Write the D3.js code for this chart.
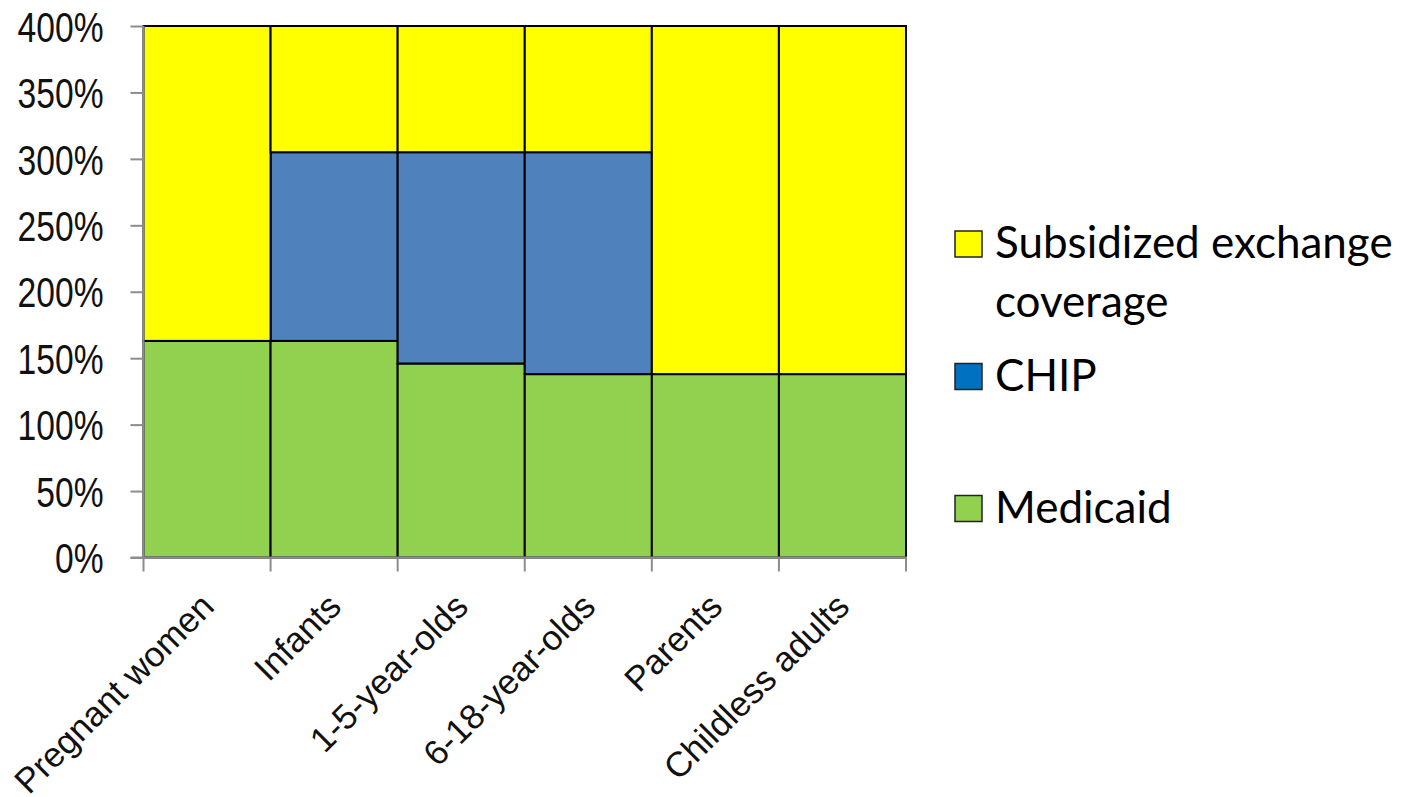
<!DOCTYPE html>
<html>
<head>
<meta charset="utf-8">
<script src="https://cdn.jsdelivr.net/npm/d3@7"></script>
<style>
  html, body { margin: 0; padding: 0; background: #fff; }
  svg { display: block; }
</style>
</head>
<body>
<svg id="chart" width="1403" height="797"></svg>
<script>
// Eligibility groups along the x axis
const categories = ["Pregnant women", "Infants", "1-5-year-olds", "6-18-year-olds", "Parents", "Childless adults"];
// Income limits as % of poverty level, stacked per group
const medicaid = [163, 163, 146, 138, 138, 138];
const chip     = [0, 142, 159, 167, 0, 0];
const exchange = [237, 95, 95, 95, 262, 262];
const yTicks = [0, 50, 100, 150, 200, 250, 300, 350, 400];

const seriesNames = ["Medicaid", "CHIP", "Subsidized exchange coverage"];
const barColors = { "Medicaid": "#92D050", "CHIP": "#4F81BD", "Subsidized exchange coverage": "#FFFF00" };
const legendColors = { "Medicaid": "#92D050", "CHIP": "#0070C0", "Subsidized exchange coverage": "#FFFF00" };

const rows = categories.map((c, i) => ({
  cat: c,
  "Medicaid": medicaid[i],
  "CHIP": chip[i],
  "Subsidized exchange coverage": exchange[i]
}));

const svg = d3.select("#chart");
const plotLeft = 143.5, plotRight = 906, plotTop = 26, plotBottom = 557.5;

const x = d3.scaleBand().domain(categories).range([plotLeft, plotRight]).padding(0);
const y = d3.scaleLinear().domain([0, 400]).range([plotBottom, plotTop]);

const stacked = d3.stack().keys(seriesNames)(rows);

// Stacked bars, touching, outlined in black
const layers = svg.append("g").selectAll("g")
  .data(stacked)
  .join("g")
  .attr("fill", d => barColors[d.key]);

layers.selectAll("rect")
  .data(d => d.filter(s => s[1] - s[0] > 0))
  .join("rect")
  .attr("x", d => x(d.data.cat))
  .attr("width", x.bandwidth())
  .attr("y", d => y(d[1]))
  .attr("height", d => y(d[0]) - y(d[1]))
  .attr("stroke", "#000")
  .attr("stroke-width", 2);

// Y axis (narrow labels: regular sans squeezed horizontally)
const yAxis = svg.append("g")
  .attr("transform", `translate(${plotLeft},0)`)
  .call(d3.axisLeft(y).tickValues(yTicks).tickFormat(d => d + "%").tickSize(13).tickPadding(27));
yAxis.select(".domain").attr("stroke", "#8c8c8c").attr("stroke-width", 2).attr("d", `M0,${plotBottom + 1}V${plotTop}`);
yAxis.selectAll(".tick line").attr("stroke", "#8c8c8c").attr("stroke-width", 2);
yAxis.selectAll(".tick text")
  .attr("x", 0)
  .attr("transform", "translate(-40,0) scale(0.8,1)")
  .attr("fill", "#111")
  .style("font-family", "'Liberation Sans', Arial, sans-serif")
  .style("font-size", "42px")
  .attr("dy", "0.36em");

// X axis: ticks at band boundaries
const xAxisG = svg.append("g");
xAxisG.append("line")
  .attr("x1", plotLeft - 13).attr("x2", plotRight + 1)
  .attr("y1", plotBottom).attr("y2", plotBottom)
  .attr("stroke", "#8c8c8c").attr("stroke-width", 2);
const bounds = categories.map(c => x(c)).concat([plotRight]);
xAxisG.selectAll("line.xt")
  .data(bounds)
  .join("line")
  .attr("class", "xt")
  .attr("x1", d => d).attr("x2", d => d)
  .attr("y1", plotBottom).attr("y2", plotBottom + 14)
  .attr("stroke", "#8c8c8c").attr("stroke-width", 2);

xAxisG.selectAll("text")
  .data(categories)
  .join("text")
  .attr("transform", d => `translate(${x(d) + x.bandwidth() / 2 + 9},${plotBottom + 51}) rotate(-45)`)
  .attr("text-anchor", "end")
  .attr("fill", "#111")
  .style("font-family", "'Liberation Sans', Arial, sans-serif")
  .style("font-size", "35px")
  .text(d => d);

// Legend
const legend = [
  { key: "Subsidized exchange coverage", lines: ["Subsidized exchange", "coverage"], y: 244 },
  { key: "CHIP", lines: ["CHIP"], y: 376.5 },
  { key: "Medicaid", lines: ["Medicaid"], y: 508.5 }
];
const lg = svg.append("g");
legend.forEach(item => {
  lg.append("rect")
    .attr("x", 955).attr("y", item.y - 13)
    .attr("width", 27).attr("height", 26)
    .attr("fill", legendColors[item.key])
    .attr("stroke", "#222").attr("stroke-width", 1.5);
  const t = lg.append("text")
    .attr("x", 995).attr("y", item.y + 14)
    .attr("fill", "#000")
    .style("font-family", "Lato, 'Open Sans', sans-serif")
    .style("font-size", "44px");
  item.lines.forEach((ln, i) => {
    t.append("tspan").attr("x", 995).attr("dy", i === 0 ? 0 : 59).text(ln);
  });
});
</script>
</body>
</html>
